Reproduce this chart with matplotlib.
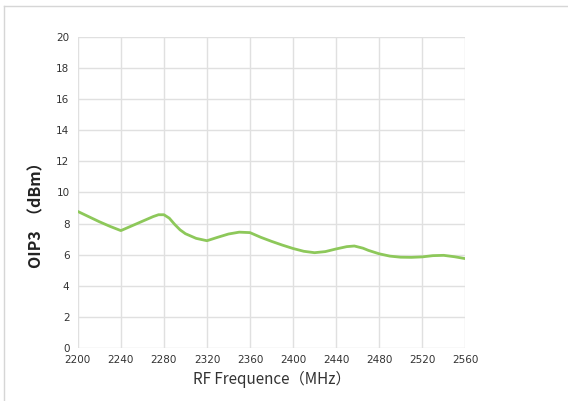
import matplotlib
matplotlib.use("Agg")
import matplotlib.pyplot as plt
from matplotlib.lines import Line2D

# values
freq_mhz = [2200, 2210, 2220, 2230, 2240, 2250, 2260, 2270, 2275, 2280, 2285,
            2290, 2295, 2300, 2310, 2320, 2330, 2340, 2350, 2360, 2370, 2380,
            2390, 2400, 2410, 2420, 2430, 2440, 2450, 2457, 2465, 2470, 2480,
            2490, 2500, 2510, 2520, 2530, 2540, 2550, 2560]
oip3_dbm = [8.78, 8.45, 8.12, 7.82, 7.55, 7.85, 8.15, 8.45, 8.57, 8.57, 8.35,
            7.95, 7.6, 7.35, 7.05, 6.9, 7.12, 7.33, 7.45, 7.42, 7.12, 6.86,
            6.62, 6.4, 6.22, 6.13, 6.2, 6.37, 6.52, 6.56, 6.42, 6.28, 6.06,
            5.91, 5.84, 5.83, 5.86, 5.94, 5.96, 5.87, 5.75]

x_ticks = list(range(2200, 2561, 40))
y_ticks = list(range(0, 21, 2))

LINE_COLOR = "#8dc85a"
GRID_COLOR = "#e0e0e0"

fig = plt.figure(figsize=(5.68, 4.01), dpi=100)
# faint page frame: top and left edges only
fig.lines.append(Line2D([0.007, 1.0], [0.984, 0.984], transform=fig.transFigure,
                        color="#d6d6d6", linewidth=1.0))
fig.lines.append(Line2D([0.007, 0.007], [0.0, 0.984], transform=fig.transFigure,
                        color="#d6d6d6", linewidth=1.0))

ax = fig.add_axes([0.137, 0.132, 0.682, 0.776])

ax.plot(freq_mhz, oip3_dbm, color=LINE_COLOR, linewidth=2.0, solid_capstyle="round")

ax.set_xlim(2200, 2560)
ax.set_ylim(0, 20)
ax.set_xticks(x_ticks)
ax.set_yticks(y_ticks)
ax.grid(True, color=GRID_COLOR, linewidth=1.0)
ax.set_axisbelow(True)
for side in ax.spines.values():
    side.set_visible(False)
ax.tick_params(length=0, labelsize=7.5, colors="#333333", pad=6)
ax.tick_params(axis="x", pad=5)

ax.set_ylabel("OIP3  （dBm）", family=["Noto Sans CJK SC", "DejaVu Sans"],
              fontsize=11.5, fontweight="bold", color="#222222")
ax.yaxis.set_label_coords(-0.085, 0.44)
ax.set_xlabel("RF Frequence（MHz）", family=["Noto Sans CJK SC", "DejaVu Sans"],
              fontsize=11, color="#333333", labelpad=4)

fig.savefig("out.png", dpi=100)
